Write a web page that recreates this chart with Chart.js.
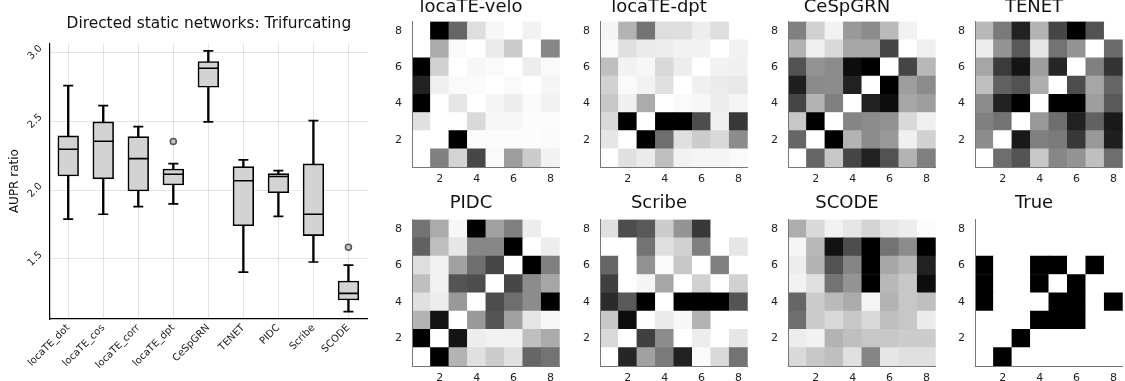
<!DOCTYPE html>
<html>
<head>
<meta charset="utf-8">
<script src="https://cdn.jsdelivr.net/npm/chart.js@4.4.1/dist/chart.umd.min.js"></script>
<style>
  html, body { margin: 0; padding: 0; background: #fff; }
  body { width: 1125px; height: 381px; overflow: hidden; position: relative; }
  .panel { position: absolute; }
</style>
</head>
<body>
<div class="panel" style="left:0;top:0;width:380px;height:381px"><canvas id="boxChart"></canvas></div>
<script>
// AUPR ratio summaries per method (box plot)
const methods = ["locaTE_dot", "locaTE_cos", "locaTE_corr", "locaTE_dpt", "CeSpGRN", "TENET", "PIDC", "Scribe", "SCODE"];
const whiskerLow  = [1.79, 1.825, 1.88, 1.90, 2.496, 1.405, 1.81, 1.478, 1.117];
const quartile1   = [2.103, 2.082, 1.994, 2.038, 2.748, 1.742, 1.982, 1.670, 1.202];
const medians     = [2.297, 2.355, 2.229, 2.116, 2.886, 2.069, 2.099, 1.825, 1.250];
const quartile3   = [2.394, 2.496, 2.389, 2.154, 2.935, 2.171, 2.120, 2.191, 1.340];
const whiskerHigh = [2.76, 2.615, 2.462, 2.193, 3.012, 2.220, 2.142, 2.506, 1.456];
const outlierMethod = [4, 9];
const outlierValue  = [2.353, 1.585];
const auprTicks = [1.5, 2.0, 2.5, 3.0];

// 8x8 inferred networks, rows listed from gene 1 (bottom) to gene 8 (top)
const gridLabels = ["1", "2", "3", "4", "5", "6", "7", "8"];
const gridTicks = [2, 4, 6, 8];

const veloGrid = [
  [0, 0.5, 0.17, 0.72, 0.02, 0.38, 0.2, 0.05],
  [0, 0, 1.0, 0.01, 0.01, 0.01, 0.01, 0.02],
  [0.12, 0, 0, 0.15, 0.03, 0.03, 0.01, 0.01],
  [1.0, 0, 0.1, 0, 0.04, 0.07, 0.02, 0.05],
  [0.87, 0.06, 0.02, 0.02, 0, 0.02, 0, 0.04],
  [1.0, 0.18, 0, 0.03, 0.02, 0, 0.07, 0.02],
  [0, 0.33, 0.02, 0, 0.08, 0.2, 0, 0.47],
  [0, 1.0, 0.6, 0.13, 0.03, 0, 0.05, 0]
];
const dptGrid = [
  [0, 0.12, 0.08, 0.25, 0.05, 0.04, 0.04, 0.02],
  [0.1, 0, 1.0, 0.57, 0.12, 0.2, 0.15, 0.45],
  [0.15, 1.0, 0, 1.0, 1.0, 0.7, 0.06, 0.78],
  [0.22, 0.06, 0.33, 0, 0.02, 0.03, 0.07, 0.04],
  [0.18, 0.02, 0.05, 0.12, 0, 0.06, 0.08, 0.09],
  [0.25, 0.05, 0.03, 0.15, 0.07, 0, 0.05, 0.06],
  [0.02, 0.12, 0.08, 0.07, 0.05, 0.05, 0, 0.05],
  [0.04, 0.3, 0.55, 0.13, 0.13, 0.07, 0.13, 0]
];
const cespGrid = [
  [0, 0.6, 0.22, 0.73, 0.87, 0.68, 0.3, 0.5],
  [0.6, 0, 1.0, 0.3, 0.45, 0.4, 0.06, 0.18],
  [0.22, 1.0, 0, 0.48, 0.45, 0.43, 0.15, 0.06],
  [0.73, 0.3, 0.5, 0, 0.87, 0.95, 0.35, 0.38],
  [0.88, 0.46, 0.45, 0.87, 0, 1.0, 0.38, 0.45],
  [0.68, 0.42, 0.45, 0.95, 1.0, 0, 0.73, 0.28],
  [0.3, 0.06, 0.15, 0.35, 0.35, 0.73, 0, 0.06],
  [0.5, 0.18, 0.05, 0.4, 0.45, 0.27, 0.05, 0]
];
const tenetGrid = [
  [0, 0.57, 0.67, 0.22, 0.47, 0.42, 0.25, 0.57],
  [0.45, 0, 0.9, 0.5, 0.52, 0.78, 0.4, 0.88],
  [0.5, 0.55, 0, 0.4, 0.57, 0.87, 0.62, 0.9],
  [0.45, 0.87, 1.0, 0, 1.0, 1.0, 0.38, 0.65],
  [0.25, 0.62, 0.68, 0.32, 0, 0.7, 0.35, 0.6],
  [0.35, 0.77, 0.92, 0.38, 0.85, 0, 0.5, 0.8],
  [0.07, 0.42, 0.65, 0.1, 0.55, 0.42, 0, 0.58],
  [0.28, 0.52, 0.87, 0.3, 0.73, 1.0, 0.68, 0]
];
const pidcGrid = [
  [0, 1.0, 0.3, 0.12, 0.2, 0.12, 0.6, 0.55],
  [1.0, 0, 0.92, 0.07, 0.05, 0.05, 0.25, 0.33],
  [0.3, 0.92, 0, 0.4, 0.67, 0.37, 0.1, 0.03],
  [0.12, 0.07, 0.4, 0, 0.7, 0.57, 0.45, 1.0],
  [0.25, 0.05, 0.67, 0.7, 0, 0.72, 0.45, 0.35],
  [0.13, 0.05, 0.37, 0.57, 0.72, 0, 1.0, 0.5],
  [0.62, 0.25, 0.1, 0.47, 0.47, 1.0, 0, 0.07],
  [0.55, 0.33, 0.03, 1.0, 0.37, 0.5, 0.07, 0]
];
const scribeGrid = [
  [0, 0.85, 0.37, 0.52, 0.87, 0.02, 0.15, 0.55],
  [0.15, 0, 0.75, 0.45, 0, 0.07, 0, 0.1],
  [0.22, 0.95, 0, 0.08, 0.03, 0.3, 0, 0],
  [0.83, 0.65, 1.0, 0, 1.0, 1.0, 1.0, 0.67],
  [0.75, 0, 0.04, 0.35, 0, 0.18, 0, 0.18],
  [0.6, 0, 0.43, 0.02, 0.22, 0, 0.5, 0],
  [0, 0, 0.55, 0.12, 0.18, 0.5, 0, 0.1],
  [0.12, 0.7, 0.65, 0.2, 0.42, 0.78, 0, 0]
];
const scodeGrid = [
  [0.15, 0.22, 0.25, 0.12, 0.48, 0.1, 0.12, 0.12],
  [0.07, 0.05, 0.3, 0.25, 0.22, 0.22, 0.2, 0.2],
  [0.57, 0.2, 0.15, 0.22, 0.15, 0.25, 0.22, 0.08],
  [0.6, 0.2, 0.27, 0.33, 0.04, 0.3, 0.22, 0.25],
  [0.05, 0.12, 0.55, 0.42, 1.0, 0.28, 0.22, 0.95],
  [0.07, 0.3, 0.68, 0.48, 1.0, 0.35, 0.28, 0.87],
  [0.04, 0.28, 0.93, 0.7, 1.0, 0.55, 0.45, 1.0],
  [0.32, 0.15, 0.05, 0.1, 0.17, 0.1, 0.07, 0.01]
];
const trueGrid = [
  [0, 1, 0, 0, 0, 0, 0, 0],
  [0, 0, 1, 0, 0, 0, 0, 0],
  [0, 0, 0, 1, 1, 1, 0, 0],
  [1, 0, 0, 0, 1, 1, 0, 1],
  [1, 0, 0, 1, 0, 1, 0, 0],
  [1, 0, 0, 1, 1, 0, 1, 0],
  [0, 0, 0, 0, 0, 0, 0, 0],
  [0, 0, 0, 0, 0, 0, 0, 0]
];

Chart.defaults.font.family = "'DejaVu Sans', sans-serif";
Chart.defaults.color = "#222";
Chart.defaults.animation = false;
Chart.defaults.events = [];
Chart.defaults.plugins.legend.display = false;
Chart.defaults.plugins.tooltip.enabled = false;

// ---------- box plot ----------
const boxCtx = document.getElementById("boxChart");
new Chart(boxCtx, {
  type: "bar",
  data: {
    datasets: [
      {
        type: "scatter",
        order: 0,
        data: methods.map((m, i) => ({ x: i + 1, y: medians[i] })),
        pointStyle: "line",
        pointRadius: 10.3,
        pointBorderColor: "#000",
        pointBorderWidth: 1.6
      },
      {
        type: "scatter",
        order: 0,
        data: outlierMethod.map((m, i) => ({ x: m, y: outlierValue[i] })),
        pointStyle: "circle",
        pointRadius: 3,
        pointBackgroundColor: "#c4c4c4",
        pointBorderColor: "#555",
        pointBorderWidth: 1.5
      },
      {
        type: "scatter",
        order: 1,
        data: methods.map((m, i) => ({ x: i + 1, y: whiskerHigh[i] }))
          .concat(methods.map((m, i) => ({ x: i + 1, y: whiskerLow[i] }))),
        pointStyle: "line",
        pointRadius: 5,
        pointBorderColor: "#000",
        pointBorderWidth: 1.7
      },
      {
        order: 2,
        data: methods.map((m, i) => ({ x: i + 1, y: [quartile1[i], quartile3[i]] })),
        backgroundColor: "#d3d3d3",
        borderColor: "#000",
        borderWidth: 1.6,
        borderSkipped: false,
        barThickness: 20.7,
        grouped: false
      },
      {
        order: 3,
        data: methods.map((m, i) => ({ x: i + 1, y: [whiskerLow[i], whiskerHigh[i]] })),
        backgroundColor: "#000",
        borderWidth: 0,
        barThickness: 1.7,
        grouped: false
      }
    ]
  },
  options: {
    responsive: true,
    maintainAspectRatio: false,
    layout: { padding: { right: 12.3 } },
    plugins: {
      title: {
        display: true,
        text: "Directed static networks: Trifurcating",
        fullSize: false,
        color: "#111",
        font: { size: 15.4, weight: "normal" },
        padding: { top: 14.4, bottom: 10.3 }
      }
    },
    scales: {
      x: {
        type: "linear",
        offset: false,
        min: 0.48,
        max: 9.55,
        grid: { color: "rgba(0,0,0,0.1)", drawTicks: false, offset: false },
        border: { color: "#000", width: 1.2 },
        afterBuildTicks: (axis) => { axis.ticks = methods.map((m, i) => ({ value: i + 1 })); },
        afterFit: (axis) => { axis.height = 62; },
        ticks: {
          autoSkip: false,
          minRotation: 45,
          maxRotation: 45,
          padding: 3,
          font: { size: 10 },
          callback: (v) => methods[v - 1]
        }
      },
      y: {
        type: "linear",
        beginAtZero: false,
        min: 1.064,
        max: 3.068,
        grid: { color: "rgba(0,0,0,0.1)", drawTicks: false },
        border: { color: "#000", width: 1.2 },
        afterBuildTicks: (axis) => { axis.ticks = auprTicks.map(v => ({ value: v })); },
        afterFit: (axis) => { axis.width = 50; },
        title: {
          display: true,
          text: "AUPR ratio",
          color: "#111",
          font: { size: 12 },
          padding: { top: 7.8, bottom: 0 }
        },
        ticks: {
          minRotation: 45,
          maxRotation: 45,
          crossAlign: "center",
          padding: 7,
          font: { size: 10 },
          callback: (v) => v.toFixed(1)
        }
      }
    }
  }
});

// ---------- heatmaps ----------
const panels = [
  { title: "locaTE-velo", grid: veloGrid },
  { title: "locaTE-dpt", grid: dptGrid },
  { title: "CeSpGRN", grid: cespGrid },
  { title: "TENET", grid: tenetGrid },
  { title: "PIDC", grid: pidcGrid },
  { title: "Scribe", grid: scribeGrid },
  { title: "SCODE", grid: scodeGrid },
  { title: "True", grid: trueGrid }
];
const panelLeft = [382, 570, 758, 945];

function shade(v) {
  const g = Math.round(255 * (1 - v));
  return `rgb(${g},${g},${g})`;
}

panels.forEach((p, k) => {
  const row = Math.floor(k / 4);
  const div = document.createElement("div");
  div.className = "panel";
  div.style.left = panelLeft[k % 4] + "px";
  div.style.top = (row ? 193 : -3) + "px";
  div.style.width = "178px";
  div.style.height = (row ? 197 : 194) + "px";
  const canvas = document.createElement("canvas");
  div.appendChild(canvas);
  document.body.appendChild(div);

  new Chart(canvas, {
    type: "bar",
    data: {
      labels: gridLabels,
      datasets: p.grid.map((cells, r) => ({
        data: cells.map(() => [r + 0.5, r + 1.5]),
        backgroundColor: cells.map(shade),
        borderWidth: 0,
        grouped: false,
        barPercentage: 1,
        categoryPercentage: 1
      }))
    },
    options: {
      responsive: true,
      maintainAspectRatio: false,
      plugins: {
        title: {
          display: true,
          text: p.title,
          color: "#111",
          font: { size: 18, weight: "normal" },
          padding: { top: 0, bottom: row ? 5 : 3 }
        }
      },
      scales: {
        x: {
          type: "category",
          grid: { display: false, drawTicks: false },
          border: { color: "#777", width: 1, z: 1 },
          afterFit: (axis) => { axis.height = 24; },
          ticks: {
            autoSkip: false,
            maxRotation: 0,
            padding: 6,
            font: { size: 11 },
            callback: (v, i) => ((i + 1) % 2 === 0 ? gridLabels[i] : "")
          }
        },
        y: {
          type: "linear",
          min: 0.5,
          max: 8.5,
          grid: { display: false, drawTicks: false },
          border: { color: "#777", width: 1, z: 1 },
          afterBuildTicks: (axis) => { axis.ticks = gridTicks.map(v => ({ value: v })); },
          afterFit: (axis) => { axis.width = 30; },
          ticks: { padding: 10, font: { size: 11 } }
        }
      }
    }
  });
});
</script>
</body>
</html>
